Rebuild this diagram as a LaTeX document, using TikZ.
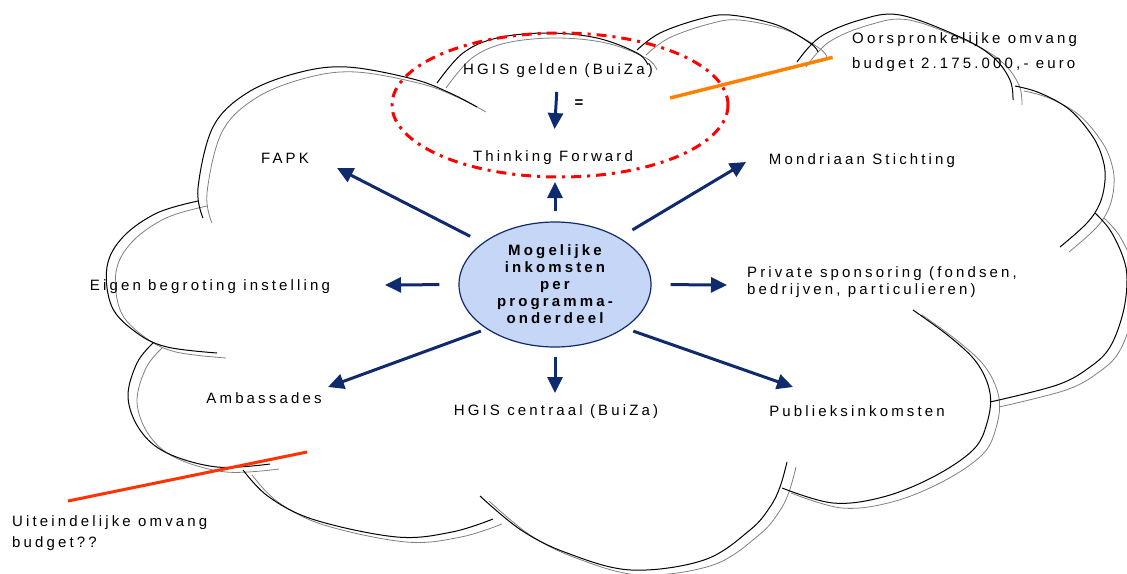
\documentclass[tikz,border=0pt]{standalone}
\usepackage{fontspec}
\setmainfont{Liberation Sans}
\newfontfamily\spacedfont[LetterSpace=21]{Liberation Sans}
\usetikzlibrary{arrows.meta,shapes.geometric}
\definecolor{navy}{RGB}{16,42,110}
\definecolor{bubble}{RGB}{198,214,246}
\definecolor{markorange}{RGB}{255,128,0}
\definecolor{markred}{RGB}{255,51,0}

\begin{document}
\begin{tikzpicture}[x=1pt, y=-1pt,
    lbl/.style={font=\spacedfont\fontsize{15}{17}\selectfont, inner sep=0pt, text height=11pt, text depth=3pt},
    note/.style={font=\spacedfont\fontsize{15}{17}\selectfont, inner sep=0pt, align=left, anchor=west},
    flow/.style={draw=navy, line width=3pt, -{Triangle[length=16pt, width=15pt]}}]

    \useasboundingbox (0,0) rectangle (1127,573);

    % Cloud outline, grey copy first and the black one on top
    \foreach \dx/\dy/\ink/\lw in {9/5/gray/0.8pt, 0/0/black/1pt} {
        \begin{scope}[shift={(\dx,\dy)}, color=\ink, line width=\lw]
            \draw plot[smooth, tension=0.6] coordinates {(203,218) (198,188) (213,127) (247,93) (297,73) (347,67) (413,79) (450,93) (477,107)};
            \draw plot[smooth, tension=0.6] coordinates {(437,83) (463,53) (497,38) (547,33) (597,38) (637,53) (648,65)};
            \draw plot[smooth, tension=0.6] coordinates {(637,50) (660,33) (700,19) (730,15) (777,25) (810,43) (818,52)};
            \draw plot[smooth, tension=0.6] coordinates {(797,62) (820,37) (860,20) (900,15) (960,37) (993,57) (1010,80) (1013,100)};
            \draw plot[smooth, tension=0.6] coordinates {(1015,86) (1040,93) (1070,110) (1093,137) (1103,160) (1105,180) (1100,203) (1087,223) (1060,247)};
            \draw plot[smooth, tension=0.6] coordinates {(1095,213) (1110,230) (1123,257) (1127,280) (1123,313) (1110,347) (1090,367) (1057,385) (990,402)};
            \draw plot[smooth, tension=0.6] coordinates {(913,310) (950,337) (977,363) (990,393) (987,423) (973,450) (933,477) (883,497) (833,503) (782,488)};
            \draw plot[smooth, tension=0.6] coordinates {(787,462) (780,487) (770,507) (750,530) (704,560) (631,570) (567,553) (521,530) (480,496)};
            \draw plot[smooth, tension=0.6] coordinates {(243,470) (269,497) (315,520) (397,537) (452,532) (493,519)};
            \draw plot[smooth, tension=0.6] coordinates {(153,343) (137,363) (128,397) (140,430) (167,453) (217,467) (270,464)};
            \draw plot[smooth, tension=0.6] coordinates {(198,201) (157,213) (123,237) (107,267) (112,307) (137,333) (167,347) (217,353)};
        \end{scope}
    }

    % Red dash-dot ring round the HGIS part
    \draw[red, line width=3pt, dash pattern=on 10pt off 6pt on 3pt off 6pt] (560,105) ellipse [x radius=168, y radius=72];

    % Centre
    \node[ellipse, draw=navy, fill=bubble, line width=1.2pt, minimum width=192pt, minimum height=125pt, inner sep=0pt, align=center,
          font=\spacedfont\bfseries\fontsize{15}{17}\selectfont] (ctr) at (555,284.5) {Mogelijke\\inkomsten\\per\\programma-\\onderdeel};

    % Sources
    \node[lbl] (hg) at (558,70) {HGIS gelden (BuiZa)};
    \node[lbl, font=\bfseries\fontsize{15}{17}\selectfont] (eq) at (579,103) {=};
    \node[lbl] (tf) at (553,157) {Thinking Forward};
    \node[lbl] (fapk) at (285,159) {FAPK};
    \node[lbl] (mon) at (862,160) {Mondriaan Stichting};
    \node[lbl] (eig) at (210,286) {Eigen begroting instelling};
    \node[note] (priv) at (747,282) {Private sponsoring (fondsen,\\bedrijven, particulieren)};
    \node[lbl] (amb) at (264,399) {Ambassades};
    \node[lbl] (hgc) at (556,411) {HGIS centraal (BuiZa)};
    \node[lbl] (pub) at (857,412) {Publieksinkomsten};

    % Budget notes
    \node[note, font=\spacedfont\fontsize{15}{25}\selectfont] (orig) at (852,52.5) {Oorspronkelijke omvang\\budget 2.175.000,- euro};
    \node[note, font=\spacedfont\fontsize{15}{21}\selectfont] (uit) at (12,533.5) {Uiteindelijke omvang\\budget??};

    % Arrow tips
    \coordinate (tf-tip) at (555,182);
    \coordinate (fapk-tip) at (337,168);
    \coordinate (mon-tip) at (746,162);
    \coordinate (eig-tip) at (385,285);
    \coordinate (priv-tip) at (727,285);
    \coordinate (amb-tip) at (328,387);
    \coordinate (hgc-tip) at (555,393);
    \coordinate (pub-tip) at (793,387);

    % Arrows
    \draw[flow, shorten <=22pt, shorten >=28pt] (hg.center) -- (tf.center);
    \draw[flow, shorten <=10pt] (ctr.north) -- (tf-tip);
    \draw[flow, shorten <=14pt] (ctr.150) -- (fapk-tip);
    \draw[flow, shorten <=15pt] (ctr.36) -- (mon-tip);
    \draw[flow, shorten <=19pt] (ctr.west) -- (eig-tip);
    \draw[flow, shorten <=19pt] (ctr.east) -- (priv-tip);
    \draw[flow, shorten <=6pt] (ctr.213) -- (amb-tip);
    \draw[flow, shorten <=9pt] (ctr.south) -- (hgc-tip);
    \draw[flow, shorten <=9pt] (ctr.-32) -- (pub-tip);

    % Marker lines
    \coordinate (orig-end) at (670,98);
    \draw[markorange, line width=3.5pt, shorten >=20pt] (orig-end) -- (orig.west);
    \coordinate (uit-a) at (68,501);
    \coordinate (uit-b) at (307,452);
    \draw[markred, line width=3pt] (uit-a) -- (uit-b);

\end{tikzpicture}
\end{document}
